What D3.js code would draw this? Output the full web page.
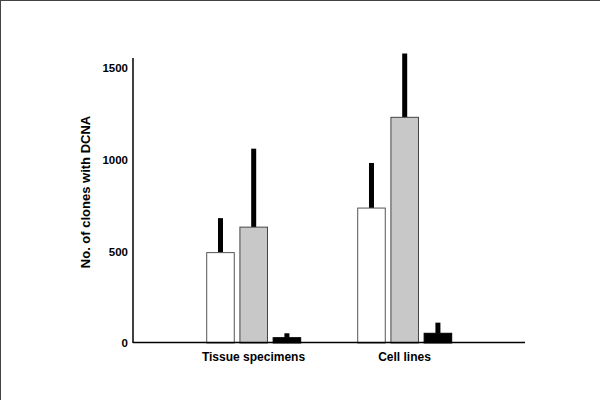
<html>
<script src='https://d3js.org/d3.v7.min.js'></script>
<style>
body {margin: 0; background: white;}
text {font-family: "Liberation Sans", Arial, sans-serif; font-weight: bold;}
</style>
<body>
<svg width=600 height=400></svg>
<script>
// values
var groups = ['Tissue specimens', 'Cell lines'];
var series = ['a', 'b', 'c'];
var means = [[493, 632, 29], [736, 1231, 53]];
var errTop = [[681, 1060, 53], [982, 1579, 111]];
var yticks = [0, 500, 1000, 1500];
var fills = ['white', '#c8c8c8', 'black'];
var strokes = ['#555', '#444', 'black'];

var svg = d3.select('svg');

// border (top and left only, as in the scan)
svg.append('line').attr('x1', 0).attr('y1', 0.5).attr('x2', 600).attr('y2', 0.5).attr('stroke', '#444');
svg.append('line').attr('x1', 0.5).attr('y1', 0).attr('x2', 0.5).attr('y2', 400).attr('stroke', '#444');

var y = d3.scaleLinear().domain([0, 1500]).range([343, 68]);
var x0 = d3.scaleBand().domain(groups).range([178, 480]).padding(0);
var x1 = d3.scaleBand().domain(series).range([28.7, 122.7]).paddingInner(0.17).paddingOuter(0);

var g = svg.selectAll('g.grp').data(groups).enter().append('g')
  .attr('class', 'grp')
  .attr('transform', function(d) { return 'translate(' + x0(d) + ',0)'; });

// error bars (drawn first, bars sit on top)
g.selectAll('rect.err').data(function(d, i) { return series.map(function(s, j) { return {s: s, m: means[i][j], e: errTop[i][j]}; }); })
  .enter().append('rect').attr('class', 'err')
  .attr('x', function(d) { return x1(d.s) + x1.bandwidth() / 2 - 2.5; })
  .attr('width', 5)
  .attr('y', function(d) { return y(d.e); })
  .attr('height', function(d) { return y(d.m) - y(d.e); })
  .attr('fill', 'black');

g.selectAll('rect.bar').data(function(d, i) { return series.map(function(s, j) { return {s: s, j: j, m: means[i][j]}; }); })
  .enter().append('rect').attr('class', 'bar')
  .attr('x', function(d) { return x1(d.s); })
  .attr('width', x1.bandwidth())
  .attr('y', function(d) { return y(d.m); })
  .attr('height', function(d) { return y(0) - y(d.m); })
  .attr('fill', function(d) { return fills[d.j]; })
  .attr('stroke', function(d) { return strokes[d.j]; })
  .attr('stroke-width', 1);

// y axis
var yAxis = d3.axisLeft(y).tickValues(yticks).tickSize(0).tickPadding(5).tickFormat(d3.format('d'));
var ya = svg.append('g').attr('transform', 'translate(133,0)').call(yAxis);
ya.select('.domain').remove();
ya.selectAll('text').style('font-size', '11.5px').attr('fill', 'black');
svg.append('line').attr('x1', 133).attr('x2', 133).attr('y1', 58).attr('y2', 343)
  .attr('stroke', 'black').attr('stroke-width', 1.5);

// x axis
svg.append('line').attr('x1', 133).attr('x2', 525).attr('y1', 342.5).attr('y2', 342.5)
  .attr('stroke', 'black').attr('stroke-width', 1.5);
svg.selectAll('text.cat').data(groups).enter().append('text')
  .attr('class', 'cat')
  .attr('x', function(d) { return x0(d) + 75.5; })
  .attr('y', 361)
  .attr('text-anchor', 'middle')
  .style('font-size', '12px')
  .text(function(d) { return d; });

svg.append('text')
  .attr('transform', 'translate(90,192) rotate(-90)')
  .attr('text-anchor', 'middle')
  .style('font-size', '13px')
  .text('No. of clones with DCNA');
</script>
</body>
</html>
